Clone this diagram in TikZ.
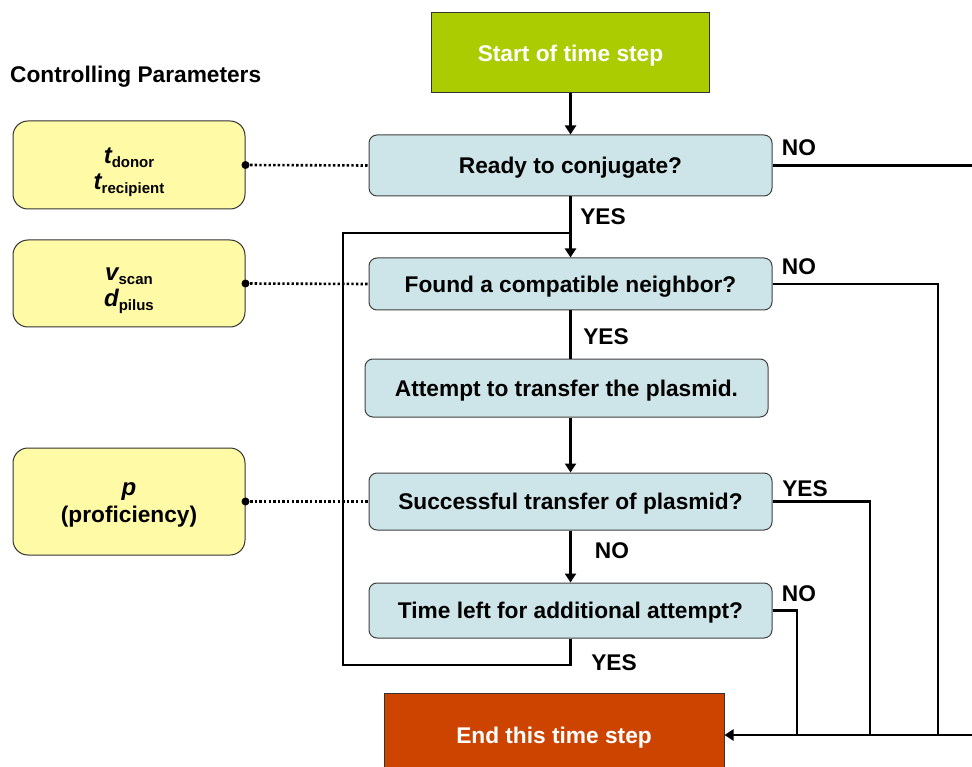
\documentclass[tikz,border=0pt]{standalone}
\usepackage{fontspec}
\setmainfont{Liberation Sans}
\usetikzlibrary{arrows.meta}
\definecolor{stgreen}{HTML}{AACC00}
\definecolor{endorange}{HTML}{CC4400}
\definecolor{qblue}{HTML}{CDE5E8}
\definecolor{pyellow}{HTML}{FFFAA6}
\newcommand\parvar[2]{{\fontsize{24}{26}\selectfont\bfseries\itshape #1}{\fontsize{15}{16}\selectfont\bfseries\raisebox{-4pt}{#2}}}
\tikzset{
  every node/.style={font=\fontsize{22.7}{27}\selectfont\bfseries},
  onel/.style={text height=16.5pt, text depth=0pt},
  qbox/.style={onel, draw=black!75, line width=1pt, fill=qblue, rounded corners=8pt, minimum width=403pt, inner sep=0pt},
  pbox/.style={draw=black!80, line width=1pt, fill=pyellow, rounded corners=15pt, minimum width=232pt, inner sep=0pt, align=center},
  ptext/.style={inner sep=0pt, align=center},
  tbox/.style={onel, draw=black!80, line width=1pt, text=white, inner sep=0pt},
  flow/.style={line width=2.2pt, draw=black},
  arr/.style={flow, -{Triangle[length=9pt,width=11pt]}},
  dotl/.style={line width=2.6pt, dash pattern=on 2.4pt off 2.2pt, draw=black},
  lbl/.style={inner sep=0pt}
}
\begin{document}
\begin{tikzpicture}[x=1pt,y=-1pt]
\clip (0,0) rectangle (972,767);
\fill[white] (0,0) rectangle (972,767);

% title
\node[lbl, anchor=west] (title) at (10,77) {Controlling Parameters};

% flow boxes
\node[tbox, fill=stgreen, minimum width=278pt, minimum height=80pt] (start) at (570.5,53) {Start of time step};
\node[qbox, minimum height=61pt] (ready) at (570.5,165.5) {Ready to conjugate?};
\node[qbox, minimum height=52pt] (found) at (570.5,284) {Found a compatible neighbor?};
\node[qbox, minimum height=58pt] (attempt) at (566.5,388) {Attempt to transfer the plasmid.};
\node[qbox, minimum height=57pt] (success) at (570.5,501.5) {Successful transfer of plasmid?};
\node[qbox, minimum height=55pt] (timeleft) at (570.5,610.5) {Time left for additional attempt?};
\node[tbox, fill=endorange, minimum width=340pt, minimum height=84pt] (endbox) at (554,735) {End this time step};

% parameter boxes
\node[pbox, minimum height=88pt] (p1) at (129,165) {};
\node[pbox, minimum height=87pt] (p2) at (129,283.5) {};
\node[pbox, minimum height=107pt] (p3) at (129,501.5) {};
\node[ptext] (p1t) at (129,172) {\parvar{t}{donor}\\[-1pt]\parvar{t}{recipient}};
\node[ptext] (p2t) at (129,291) {\parvar{v}{scan}\\[-1pt]\parvar{d}{pilus}};
\node[ptext] (p3t) at (129,505) {{\fontsize{24}{26}\selectfont\bfseries\itshape p}\\[0pt](proficiency)};

% dotted links
\draw[dotl] (p1.east) -- (ready.west);
\draw[dotl] (p2.east) -- (found.west);
\draw[dotl] (p3.east) -- (success.west);
\fill (p1.east) circle (4pt);
\fill (p2.east) circle (4pt);
\fill (p3.east) circle (4pt);

% coordinates
\coordinate (join) at (570.5,233);
\coordinate (loopL) at (343,665);
\coordinate (farR) at (985,735);
\coordinate (cFound) at (938,735);
\coordinate (cSucc) at (870,735);
\coordinate (cTime) at (797,735);

% main flow
\draw[arr] (start.south) -- (ready.north);
\draw[arr] (ready.south) -- (found.north);
\draw[flow] (found.south) -- (found.south |- attempt.north);
\draw[arr] (attempt.south -| success.north) -- (success.north);
\draw[arr] (success.south) -- (timeleft.north);
\draw[flow] (timeleft.south) |- (loopL) |- (join);

% exits to end
\draw[arr] (ready.east) -| (farR) -- (endbox.east);
\draw[flow] (found.east) -| (cFound);
\draw[flow] (success.east) -| (cSucc);
\draw[flow] (timeleft.east) -| (cTime);

% labels
\node[lbl] (l1) at (799,148) {NO};
\node[lbl] (l2) at (603,217) {YES};
\node[lbl] (l3) at (799,267) {NO};
\node[lbl] (l4) at (606,337) {YES};
\node[lbl] (l5) at (805,489) {YES};
\node[lbl] (l6) at (612,551) {NO};
\node[lbl] (l7) at (799,594) {NO};
\node[lbl] (l8) at (614,663) {YES};
\end{tikzpicture}
\end{document}
